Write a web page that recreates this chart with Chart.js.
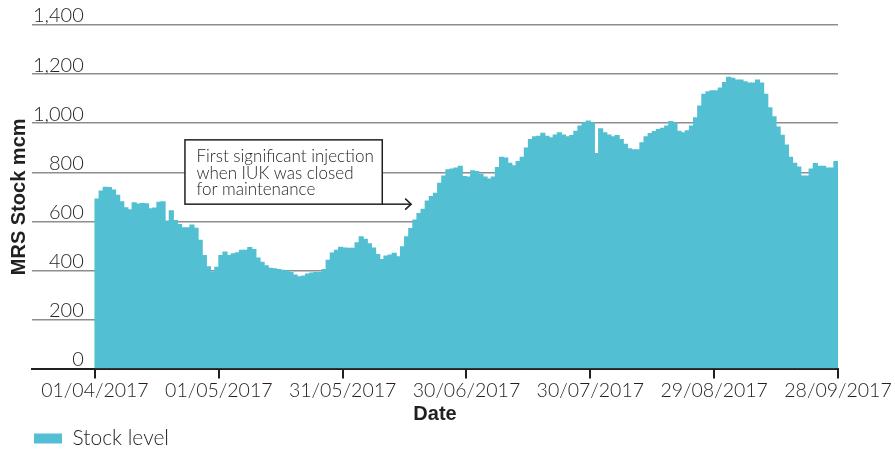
<!DOCTYPE html>
<html>
<head>
<meta charset="utf-8">
<script src="https://cdn.jsdelivr.net/npm/chart.js@4.4.1/dist/chart.umd.min.js"></script>
<style>
  html, body { margin: 0; padding: 0; background: #ffffff; }
  #wrap { width: 895px; height: 449px; position: relative; }
</style>
</head>
<body>
<div id="wrap"><canvas id="chart"></canvas></div>
<script>
// ---- Data (daily MRS stock, mcm) ----
const startDate = '01/04/2017';
const stockLevel = [
  692, 724, 740, 739, 729, 707, 681, 656, 648, 677,
  671, 674, 673, 652, 655, 679, 681, 602, 644, 604,
  588, 575, 575, 586, 573, 524, 462, 416, 394, 414,
  462, 476, 462, 469, 473, 483, 483, 494, 486, 451,
  434, 420, 410, 408, 405, 402, 400, 392, 382, 375,
  378, 386, 390, 392, 392, 405, 442, 472, 483, 495,
  492, 491, 491, 514, 538, 528, 510, 492, 466, 445,
  460, 464, 471, 457, 497, 538, 572, 606, 633, 650,
  684, 702, 715, 756, 786, 811, 814, 818, 825, 784,
  781, 807, 804, 793, 781, 773, 781, 820, 862, 859,
  838, 827, 845, 862, 900, 934, 945, 948, 960, 948,
  941, 953, 962, 953, 945, 951, 968, 989, 1003, 1010,
  1003, 877, 978, 962, 953, 945, 951, 934, 915, 897,
  893, 893, 921, 945, 959, 967, 975, 980, 989, 1008,
  1003, 968, 962, 970, 989, 1023, 1071, 1119, 1129, 1133,
  1133, 1144, 1167, 1188, 1184, 1177, 1177, 1170, 1164, 1164,
  1177, 1164, 1119, 1064, 1027, 985, 952, 912, 862, 838,
  822, 786, 786, 814, 836, 825, 825, 818, 818, 845
];
const xTickLabels = ['01/04/2017', '01/05/2017', '31/05/2017', '30/06/2017', '30/07/2017', '29/08/2017', '28/09/2017'];
const yTickLabels = ['0', '200', '400', '600', '800', '1,000', '1,200', '1,400'];
const seriesName = 'Stock level';
const xTitle = 'Date';
const yTitle = 'MRS Stock mcm';
const noteLines = ['First significant injection', 'when IUK was closed', 'for maintenance'];

// ---- helpers ----
function parseDMY(s) { const [d, m, y] = s.split('/').map(Number); return Date.UTC(y, m - 1, d); }
const DAY = 86400000;
const t0 = parseDMY(startDate);
const categories = stockLevel.map((_, i) => {
  const d = new Date(t0 + i * DAY);
  return String(d.getUTCDate()).padStart(2, '0') + '/' + String(d.getUTCMonth() + 1).padStart(2, '0') + '/' + d.getUTCFullYear();
});
const xTickDays = xTickLabels.map(s => Math.round((parseDMY(s) - t0) / DAY));

// callout placement in data units (day index / mcm)
const note = { dayFrom: 21.8, dayTo: 69.6, arrowDay: 76.6, valueTop: 932, valueBottom: 670 };

const TEAL = '#53bfd3';
const INK = '#231f20';
const LIGHT = "Lato, 'Liberation Sans', Arial, sans-serif";
const BOLD = "'Liberation Sans', Arial, Helvetica, sans-serif";

const calloutPlugin = {
  id: 'callout',
  afterDatasetsDraw(chart) {
    const { ctx, scales: { x, y } } = chart;
    const left = x.getPixelForValue(note.dayFrom);
    const right = x.getPixelForValue(note.dayTo);
    const top = y.getPixelForValue(note.valueTop);
    const bottom = y.getPixelForValue(note.valueBottom);
    const tip = x.getPixelForValue(note.arrowDay);
    ctx.save();
    ctx.fillStyle = '#ffffff';
    ctx.fillRect(left, top, right - left, bottom - top);
    ctx.strokeStyle = INK;
    ctx.lineWidth = 1.5;
    ctx.strokeRect(left, top, right - left, bottom - top);
    ctx.beginPath();
    ctx.moveTo(right, bottom);
    ctx.lineTo(tip, bottom);
    ctx.stroke();
    ctx.beginPath();
    ctx.moveTo(tip - 6, bottom - 5.5);
    ctx.lineTo(tip, bottom);
    ctx.lineTo(tip - 6, bottom + 5.5);
    ctx.stroke();
    ctx.fillStyle = INK;
    ctx.font = '300 17px ' + LIGHT;
    ctx.textAlign = 'left';
    ctx.textBaseline = 'alphabetic';
    noteLines.forEach((line, i) => {
      ctx.fillText(line, left + 11.5, top + 22.5 + i * 16.5);
    });
    ctx.restore();
  }
};

new Chart(document.getElementById('chart'), {
  type: 'bar',
  data: {
    labels: categories,
    datasets: [{
      label: seriesName,
      data: stockLevel.map((v, i) => ({ x: i + 0.5, y: v })),
      backgroundColor: TEAL,
      borderColor: TEAL,
      borderWidth: 0,
      barPercentage: 1.1,
      categoryPercentage: 1,
      inflateAmount: 0.3
    }]
  },
  options: {
    responsive: true,
    maintainAspectRatio: false,
    devicePixelRatio: 1,
    animation: false,
    events: [],
    datasets: { bar: { barPercentage: 1.1, categoryPercentage: 1 } },
    layout: { padding: { left: 30, right: 57, top: 25, bottom: -10 } },
    plugins: {
      tooltip: { enabled: false },
      legend: {
        display: true,
        position: 'bottom',
        align: 'start',
        labels: {
          boxWidth: 28,
          boxHeight: 10,
          padding: 4,
          color: INK,
          font: { family: LIGHT, size: 21, weight: 300 }
        }
      }
    },
    scales: {
      x: {
        type: 'linear',
        min: -15.25,
        max: 180,
        offset: false,
        afterBuildTicks: (scale) => { scale.ticks = xTickDays.map(v => ({ value: v })); },
        ticks: {
          autoSkip: false,
          maxRotation: 0,
          padding: 0,
          color: INK,
          font: { family: LIGHT, size: 19.5, weight: 300 },
          callback: (v) => xTickLabels[xTickDays.indexOf(v)]
        },
        grid: {
          display: true,
          drawOnChartArea: false,
          drawTicks: true,
          tickLength: 10,
          tickWidth: 2,
          tickColor: INK,
          color: INK,
          lineWidth: 2,
          offset: false
        },
        border: { display: true, color: INK, width: 2 },
        title: {
          display: true,
          text: xTitle,
          color: INK,
          font: { family: BOLD, size: 20, weight: 'bold' },
          padding: { top: 0, bottom: -2 }
        }
      },
      y: {
        min: 0,
        max: 1400,
        ticks: {
          stepSize: 200,
          mirror: true,
          crossAlign: 'far',
          padding: 1,
          labelOffset: -9,
          color: INK,
          font: { family: LIGHT, size: 20, weight: 300 },
          callback: (v, i) => yTickLabels[i]
        },
        grid: { color: '#8d8d8d', lineWidth: 1.5, drawTicks: false },
        border: { display: false },
        title: {
          display: true,
          text: yTitle,
          color: INK,
          font: { family: BOLD, size: 20, weight: 'bold' },
          padding: { top: -23, bottom: -1 }
        }
      }
    }
  },
  plugins: [calloutPlugin]
});
</script>
</body>
</html>
